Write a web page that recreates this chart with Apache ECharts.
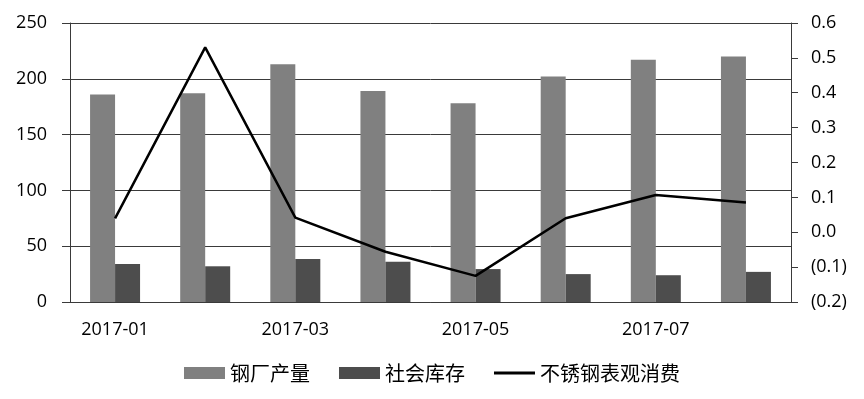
<!DOCTYPE html>
<html>
<head>
<meta charset="utf-8">
<script src="https://cdn.jsdelivr.net/npm/echarts@6/dist/echarts.min.js"></script>
<style>
  html, body { margin: 0; padding: 0; background: #fff; }
  #chart { width: 864px; height: 399px; }
</style>
</head>
<body>
<div id="chart"></div>
<script>
// 月份
const months = ['2017-01', '2017-02', '2017-03', '2017-04', '2017-05', '2017-06', '2017-07', '2017-08'];
// 钢厂产量（左轴）
const millOutput = [186, 187, 213, 189, 178, 202, 217, 220];
// 社会库存（左轴）
const socialStock = [34, 32, 38.5, 36, 29.5, 25, 24, 27];
// 不锈钢表观消费（右轴）
const apparentUse = [0.04, 0.53, 0.042, -0.056, -0.125, 0.04, 0.107, 0.085];

const labelFont = { fontFamily: 'Open Sans', fontSize: 18, color: '#000' };
const gridColor = '#3a3a3a';

const chart = echarts.init(document.getElementById('chart'), null, { renderer: 'canvas' });

chart.setOption({
  backgroundColor: '#fff',
  animation: false,
  grid: { left: 70, right: 73, top: 23, bottom: 97 },
  legend: {
    left: 184,
    top: 363,
    padding: 0,
    itemWidth: 41,
    itemHeight: 12,
    itemGap: 29,
    symbolKeepAspect: true,
    textStyle: { fontFamily: 'Noto Sans CJK SC', fontSize: 20, color: '#000' },
    data: [
      { name: '钢厂产量', icon: 'rect' },
      { name: '社会库存', icon: 'rect' },
      { name: '不锈钢表观消费', icon: 'path://M0,0 H40 V3 H0 Z' },
    ],
  },
  xAxis: {
    type: 'category',
    data: months,
    axisLine: { lineStyle: { color: gridColor, width: 1 } },
    axisTick: { interval: 1, length: 6, lineStyle: { color: gridColor } },
    axisLabel: Object.assign({ interval: 1, margin: 19 }, labelFont),
  },
  yAxis: [
    {
      type: 'value',
      min: 0,
      max: 250,
      interval: 50,
      axisLine: { show: true, lineStyle: { color: gridColor, width: 1 } },
      axisTick: { show: true, length: 8, lineStyle: { color: gridColor } },
      splitLine: { lineStyle: { color: gridColor, width: 1 } },
      axisLabel: Object.assign({ margin: 23 }, labelFont),
    },
    {
      type: 'value',
      min: -0.2,
      max: 0.6,
      interval: 0.1,
      axisLine: { show: true, lineStyle: { color: gridColor, width: 1 } },
      axisTick: { show: true, length: 7, lineStyle: { color: gridColor } },
      splitLine: { show: false },
      axisLabel: Object.assign({
        margin: 20,
        formatter: function (v) {
          const r = Math.round(v * 10) / 10;
          return r < 0 ? '(' + Math.abs(r).toFixed(1) + ')' : r.toFixed(1);
        },
      }, labelFont),
    },
  ],
  series: [
    {
      name: '钢厂产量',
      type: 'bar',
      data: millOutput,
      barWidth: 25,
      barGap: '0%',
      itemStyle: { color: '#808080' },
    },
    {
      name: '社会库存',
      type: 'bar',
      data: socialStock,
      barWidth: 25,
      itemStyle: { color: '#4d4d4d' },
    },
    {
      name: '不锈钢表观消费',
      type: 'line',
      yAxisIndex: 1,
      data: apparentUse,
      symbol: 'none',
      lineStyle: { color: '#000', width: 2.5 },
      itemStyle: { color: '#000' },
    },
  ],
});
</script>
</body>
</html>
